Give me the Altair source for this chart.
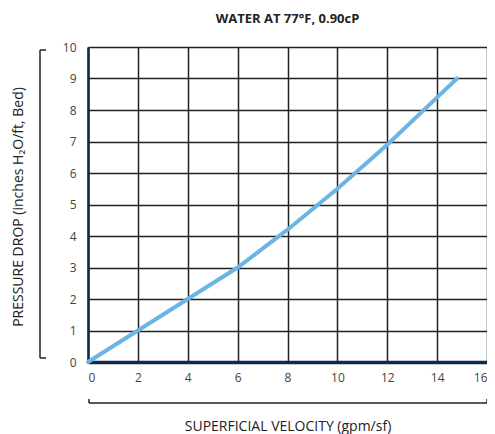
import altair as alt
import pandas as pd

velocity = [0, 2, 4, 6, 8, 10, 12, 14, 14.8]
pressure = [0, 1.0, 2.0, 3.0, 4.2, 5.5, 6.9, 8.4, 9.0]

x_ticks = list(range(0, 17, 2))
y_ticks = list(range(0, 11))

df = pd.DataFrame({"v": velocity, "p": pressure})

FONT = "Open Sans"
W, H = 399, 315

line = alt.Chart(df).mark_line(color="#6cb4e4", strokeWidth=4, strokeCap="round").encode(
    x=alt.X("v:Q", scale=alt.Scale(domain=[0, 16], nice=False),
            axis=alt.Axis(values=x_ticks, title="SUPERFICIAL VELOCITY (gpm/sf)",
                          grid=True, gridColor="#222222", gridWidth=1.5, gridOpacity=1,
                          domainColor="#0d2a4a", domainWidth=3.5, ticks=False,
                          labelPadding=10, labelFontSize=12, labelColor="#444444",
                          labelFont=FONT, titleFont=FONT, titleFontSize=14,
                          titleFontWeight="normal", titleColor="#222222",
                          titleY=64, titleBaseline="middle")),
    y=alt.Y("p:Q", scale=alt.Scale(domain=[0, 10], nice=False),
            axis=alt.Axis(values=y_ticks, title="PRESSURE DROP (inches H₂O/ft, Bed)",
                          grid=True, gridColor="#222222", gridWidth=1.5, gridOpacity=1,
                          domainColor="#0d2a4a", domainWidth=2.5, ticks=False,
                          labelPadding=12, labelFontSize=12, labelColor="#444444",
                          labelFont=FONT, titleFont=FONT, titleFontSize=14,
                          titleFontWeight="normal", titleColor="#222222",
                          titleX=-70, titleY=H / 2 + 2, titleAngle=-90,
                          titleAlign="center", titleBaseline="middle")),
)

bx = -48
ybr = alt.Chart(pd.DataFrame({"a": [0]})).mark_rule(color="#222222", strokeWidth=1.5).encode(
    x=alt.value(bx), y=alt.value(3), y2=alt.value(H - 4))
ybr_t = alt.Chart(pd.DataFrame({"a": [0]})).mark_rule(color="#222222", strokeWidth=1.5).encode(
    x=alt.value(bx), x2=alt.value(bx + 6), y=alt.value(3))
ybr_b = alt.Chart(pd.DataFrame({"a": [0]})).mark_rule(color="#222222", strokeWidth=1.5).encode(
    x=alt.value(bx), x2=alt.value(bx + 6), y=alt.value(H - 4))

by = H + 41
xbr = alt.Chart(pd.DataFrame({"a": [0]})).mark_rule(color="#222222", strokeWidth=1.5).encode(
    x=alt.value(1), x2=alt.value(W), y=alt.value(by))
xbr_l = alt.Chart(pd.DataFrame({"a": [0]})).mark_rule(color="#222222", strokeWidth=1.5).encode(
    x=alt.value(1), y=alt.value(by - 4), y2=alt.value(by))
xbr_r = alt.Chart(pd.DataFrame({"a": [0]})).mark_rule(color="#222222", strokeWidth=1.5).encode(
    x=alt.value(W), y=alt.value(by - 4), y2=alt.value(by))

chart = alt.layer(ybr, ybr_t, ybr_b, xbr, xbr_l, xbr_r, line).properties(
    width=W, height=H,
    title=alt.TitleParams("WATER AT 77°F, 0.90cP", font=FONT, fontSize=13,
                          fontWeight="bold", color="#222222", anchor="middle",
                          offset=15),
    autosize=alt.AutoSizeParams(type="none"),
    padding={"left": 80, "top": 39, "right": 0, "bottom": 72},
).configure_view(
    fill="#d6e6f4", stroke="#222222", strokeWidth=1.5
).configure(background="white")

chart.save("out.html", embed_options={"renderer": "svg", "actions": False})
